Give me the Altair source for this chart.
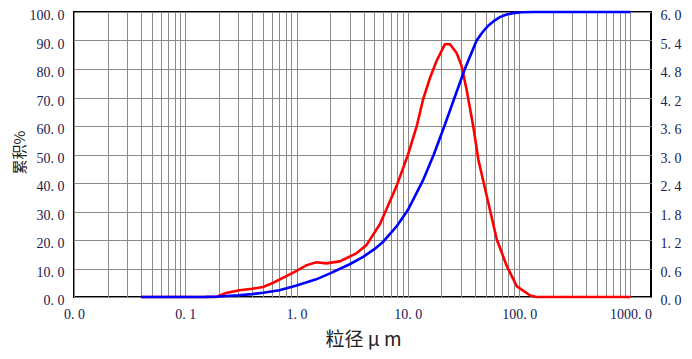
import altair as alt
import pandas as pd

# cumulative distribution (left axis, %)
size_blue = [0.04, 0.1, 0.15, 0.2, 0.3, 0.4, 0.5, 0.7, 1.0, 1.5, 2.0, 3.0, 4.0, 5.0, 6.0,
             8.0, 10.0, 13.7, 17.1, 21.3, 26.3, 32.5, 41.5, 47.0, 53.0, 60.0, 67.0, 77.0, 88.0,
             105.0, 140.0, 1000.0]
cum_blue = [0.0, 0.0, 0.05, 0.2, 0.6, 1.0, 1.5, 2.4, 4.0, 6.2, 8.3, 11.5, 14.2, 16.8, 19.4,
            25.0, 30.5, 41.0, 50.0, 60.0, 70.0, 80.0, 90.0, 93.0, 95.3, 97.0, 98.2, 99.1, 99.6,
            99.9, 100.0, 100.0]

# differential distribution (right axis)
size_red = [0.04, 0.1, 0.19, 0.232, 0.306, 0.40, 0.50, 0.61, 0.81, 1.0, 1.22, 1.5, 1.85, 2.44,
            3.44, 4.24, 5.6, 7.9, 10.0, 12.0, 13.7, 15.8, 18.1, 21.5, 23.9, 27.4, 30.4, 33.7,
            38.7, 43.0, 51.2, 63.0, 77.5, 95.3, 126.0, 144.0, 1000.0]
diff_red = [0.0, 0.0, 0.0, 0.084, 0.141, 0.174, 0.21, 0.294, 0.438, 0.552, 0.666, 0.732, 0.708, 0.75,
            0.918, 1.092, 1.53, 2.33, 2.99, 3.59, 4.16, 4.61, 4.97, 5.32, 5.32, 5.14, 4.86, 4.37,
            3.59, 2.89, 2.12, 1.21, 0.65, 0.225, 0.03, 0.0, 0.0]

x_grid = [m * 10.0 ** e for e in range(-2, 3) for m in range(1, 10)] + [1000.0]
left_ticks = [i * 10 for i in range(11)]
right_ticks = [round(i * 0.6, 1) for i in range(11)]

x_title = "粒径 μ m"
y_title = "累积%"

df_blue = pd.DataFrame({"size": size_blue, "value": cum_blue})
df_red = pd.DataFrame({"size": size_red, "value": diff_red})

LABEL_FONT = "Liberation Serif"
LABEL_COLOR = "#202050"
GRID = "#8a8a8a"
lab_expr = "replace(format(datum.value, '.1f'), '.', '. ')"

x_scale = alt.Scale(type="log", domain=[0.01, 1530], nice=False)

x_enc = alt.X(
    "size:Q",
    scale=x_scale,
    axis=alt.Axis(
        values=x_grid,
        labelExpr="abs(log(datum.value)/LN10 - round(log(datum.value)/LN10)) < 0.001 ? "
                  + lab_expr + " : ''",
        labelOverlap=False,
        labelFlush=False,
        ticks=False,
        domain=False,
        grid=True,
        gridColor=GRID,
        gridOpacity=1,
        gridWidth=1,
        labelFont=LABEL_FONT,
        labelFontSize=14,
        labelColor=LABEL_COLOR,
        labelPadding=10,
        title=x_title,
        titleFont="Noto Sans CJK SC",
        titleFontSize=19,
        titleFontWeight="normal",
        titleColor="#222222",
        titleX=289,
        titleY=48,
        titleBaseline="alphabetic",
        titleAlign="center",
    ),
)

blue = alt.Chart(df_blue).mark_line(color="#0000ff", strokeWidth=2.6).encode(
    x=x_enc,
    y=alt.Y(
        "value:Q",
        scale=alt.Scale(domain=[0, 100], nice=False),
        axis=alt.Axis(
            values=left_ticks,
            labelExpr=lab_expr,
            ticks=False,
            domain=False,
            grid=True,
            gridColor=GRID,
            gridOpacity=1,
            gridWidth=1,
            labelFont=LABEL_FONT,
            labelFontSize=14,
            labelColor=LABEL_COLOR,
            labelPadding=10,
            labelOffset=3.5,
            labelBaseline="middle",
            title=y_title,
            titleFont="Noto Sans CJK SC",
            titleFontSize=15,
            titleFontWeight="normal",
            titleColor="#222222",
            titleAngle=270,
            titleX=-55,
            titleY=140,
            titleAlign="center",
            titleBaseline="middle",
        ),
    ),
)

red = alt.Chart(df_red).mark_line(color="#ff0000", strokeWidth=2.6).encode(
    x=alt.X("size:Q", scale=x_scale),
    y=alt.Y(
        "value:Q",
        scale=alt.Scale(domain=[0, 6], nice=False),
        axis=alt.Axis(
            orient="right",
            values=right_ticks,
            labelExpr=lab_expr,
            ticks=False,
            domain=False,
            grid=False,
            labelFont=LABEL_FONT,
            labelFontSize=14,
            labelColor=LABEL_COLOR,
            labelPadding=9,
            labelOffset=3.5,
            labelBaseline="middle",
            title=None,
        ),
    ),
)

chart = (
    alt.layer(red, blue)
    .resolve_scale(y="independent")
    .properties(
        width=577,
        height=285,
        autosize=alt.AutoSizeParams(type="none"),
        padding={"left": 66, "top": 4, "right": 33, "bottom": 54},
        background="white",
    )
    .configure_view(stroke="#000000", strokeWidth=2)
)

chart.save("out.html", embed_options={"renderer": "svg", "actions": False})
